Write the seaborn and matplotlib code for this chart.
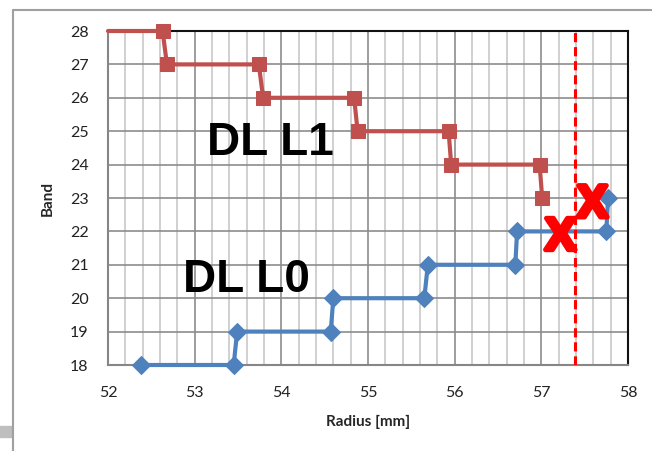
import matplotlib
matplotlib.use("Agg")
import matplotlib.pyplot as plt
import matplotlib.patheffects as pe
from matplotlib.lines import Line2D
from matplotlib.patches import Rectangle
from matplotlib.ticker import MultipleLocator
import seaborn as sns
import pandas as pd

# ---- data ----
l1_radius = [52.0, 52.63, 52.68, 53.74, 53.79, 54.84, 54.88, 55.93, 55.96, 56.98, 57.01]
l1_band   = [28,    28,    27,    27,    26,    26,    25,    25,    24,    24,    23]
l0_radius = [52.38, 53.45, 53.49, 54.57, 54.60, 55.65, 55.69, 56.70, 56.72, 57.75, 57.77]
l0_band   = [18,    18,    19,    19,    20,    20,    21,    21,    22,    22,    23]
cutoff_radius = 57.39
x_marks_radius = [57.22, 57.59]
x_marks_band = [21.45, 22.43]
labels = ["DL L1", "DL L0"]
label_pos_x = [53.14, 52.87]
label_pos_y = [24.29, 20.19]
x_ticks = [52, 53, 54, 55, 56, 57, 58]
y_ticks = list(range(18, 29))

sns.set_style("white")
plt.rcParams['font.family'] = ['Lato', 'DejaVu Sans']

fig = plt.figure(figsize=(6.52, 4.51), dpi=100)
ax = fig.add_axes([108/652, 1-365/451, (628-108)/652, (365-31)/451])

red = "#C0504D"
blue = "#4F81BD"

df1 = pd.DataFrame({"Radius": l1_radius, "Band": l1_band})
df0 = pd.DataFrame({"Radius": l0_radius, "Band": l0_band})
sns.lineplot(data=df1, x="Radius", y="Band", sort=False, estimator=None, ax=ax,
             color=red, linewidth=3, marker="s", markersize=10.5,
             markeredgecolor=red, markerfacecolor=red, zorder=3, clip_on=False,
             markevery=list(range(1, len(l1_radius))))
sns.lineplot(data=df0, x="Radius", y="Band", sort=False, estimator=None, ax=ax,
             color=blue, linewidth=3, marker="D", markersize=9,
             markeredgecolor=blue, markerfacecolor=blue, zorder=3, clip_on=False)

ax.axvline(cutoff_radius, color="#FF0000", linewidth=2.2, linestyle=(0, (3, 1.6)), zorder=4)

for xm, ym in zip(x_marks_radius, x_marks_band):
    ax.text(xm, ym, "X", color="#FF0000", fontsize=33, fontweight="bold",
            family=["Liberation Sans", "DejaVu Sans"], ha="center", va="baseline", zorder=5,
            path_effects=[pe.withStroke(linewidth=3.5, foreground="#FF0000")])

for t, xp, yp in zip(labels, label_pos_x, label_pos_y):
    ax.text(xp, yp, t, color="black", fontsize=33, fontweight="bold",
            family=["Liberation Sans", "DejaVu Sans"], ha="left", va="baseline", zorder=5)

ax.set_xlim(52, 58)
ax.set_ylim(18, 28)
ax.set_xticks(x_ticks)
ax.set_yticks(y_ticks)
ax.xaxis.set_minor_locator(MultipleLocator(0.2))
ax.grid(which="minor", axis="x", color="#C8C8C8", linewidth=1.2, zorder=0)
ax.grid(which="major", axis="x", color="#8C8C8C", linewidth=1.2, zorder=0)
ax.grid(which="major", axis="y", color="#8C8C8C", linewidth=1.2, zorder=0)
ax.set_axisbelow(True)
ax.tick_params(axis="both", which="both", length=0)
ax.tick_params(axis="x", pad=15, labelsize=11.5, labelcolor="#222222")
ax.tick_params(axis="y", pad=14, labelsize=11.5, labelcolor="#222222")

ax.set_xlabel("Radius [mm]", fontsize=11, fontweight="bold", labelpad=11)
ax.set_ylabel("Band", fontsize=11, fontweight="bold", labelpad=11)

for s in ["left", "bottom"]:
    ax.spines[s].set_color("#868686")
    ax.spines[s].set_linewidth(1.5)
for s in ["top", "right"]:
    ax.spines[s].set_color("#111111")
    ax.spines[s].set_linewidth(1.5)

# chart area border fragments
fig.add_artist(Line2D([13/652, 1], [1-10/451, 1-10/451], color="#A0A0A0", linewidth=1.5))
fig.add_artist(Line2D([13/652, 13/652], [0, 1-10/451], color="#A0A0A0", linewidth=1.5))
fig.add_artist(Rectangle((0, 1-437/451), 12/652, 11/451, color="#BEBEBE", transform=fig.transFigure))

fig.savefig("out.png", dpi=100)
